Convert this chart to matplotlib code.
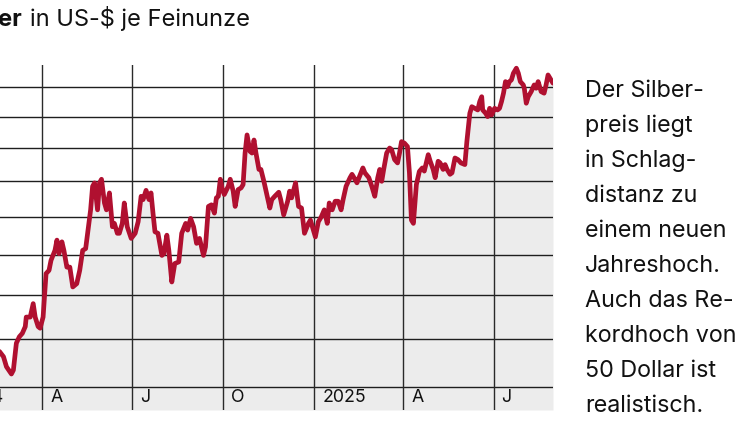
import matplotlib
matplotlib.use("Agg")
import matplotlib.pyplot as plt
import matplotlib.transforms as mtransforms
from matplotlib.ticker import NullLocator
import pandas as pd

plt.rcParams['font.family'] = ['Inter', 'DejaVu Sans']

# ---- data -------------------------------------------------------------
dates = [
    "2024-02-10", "2024-02-18", "2024-02-22", "2024-02-25", "2024-03-01", "2024-03-03", "2024-03-06",
    "2024-03-09", "2024-03-12", "2024-03-15", "2024-03-16", "2024-03-20", "2024-03-23",
    "2024-03-25", "2024-03-28", "2024-03-30", "2024-04-02", "2024-04-05", "2024-04-08",
    "2024-04-10", "2024-04-14", "2024-04-16", "2024-04-18", "2024-04-21", "2024-04-23",
    "2024-04-26", "2024-04-29", "2024-05-02", "2024-05-06", "2024-05-09", "2024-05-12",
    "2024-05-15", "2024-05-17", "2024-05-20", "2024-05-22", "2024-05-24", "2024-05-27",
    "2024-05-29", "2024-05-31", "2024-06-03", "2024-06-05", "2024-06-08", "2024-06-11",
    "2024-06-13", "2024-06-16", "2024-06-18", "2024-06-21", "2024-06-23", "2024-06-26",
    "2024-06-30", "2024-07-04", "2024-07-07", "2024-07-10", "2024-07-12", "2024-07-15",
    "2024-07-18", "2024-07-20", "2024-07-22", "2024-07-24", "2024-07-27", "2024-07-31",
    "2024-08-02", "2024-08-05", "2024-08-07", "2024-08-10", "2024-08-13", "2024-08-17",
    "2024-08-20", "2024-08-24", "2024-08-26", "2024-08-29", "2024-09-01", "2024-09-04",
    "2024-09-07", "2024-09-11", "2024-09-13", "2024-09-16", "2024-09-19", "2024-09-22",
    "2024-09-24", "2024-09-26", "2024-09-28", "2024-09-30", "2024-10-02", "2024-10-06",
    "2024-10-08", "2024-10-11", "2024-10-13", "2024-10-16", "2024-10-19", "2024-10-21",
    "2024-10-23", "2024-10-25", "2024-10-28", "2024-10-30", "2024-11-01", "2024-11-03",
    "2024-11-06", "2024-11-08", "2024-11-11", "2024-11-14", "2024-11-17", "2024-11-19",
    "2024-11-22", "2024-11-26", "2024-11-28", "2024-12-01", "2024-12-05", "2024-12-07",
    "2024-12-09", "2024-12-13", "2024-12-16", "2024-12-19", "2024-12-22", "2024-12-26",
    "2024-12-28", "2024-12-31", "2025-01-02", "2025-01-05", "2025-01-08", "2025-01-11",
    "2025-01-14", "2025-01-16", "2025-01-19", "2025-01-22", "2025-01-25", "2025-01-28",
    "2025-01-30", "2025-02-02", "2025-02-06", "2025-02-08", "2025-02-11", "2025-02-13",
    "2025-02-17", "2025-02-19", "2025-02-21", "2025-02-25", "2025-02-28", "2025-03-03",
    "2025-03-06", "2025-03-08", "2025-03-10", "2025-03-12", "2025-03-15", "2025-03-18",
    "2025-03-20", "2025-03-23", "2025-03-26", "2025-03-28", "2025-03-30", "2025-04-02",
    "2025-04-05", "2025-04-07", "2025-04-09", "2025-04-11", "2025-04-14", "2025-04-17",
    "2025-04-20", "2025-04-22", "2025-04-26", "2025-04-28", "2025-05-01", "2025-05-03",
    "2025-05-06", "2025-05-08", "2025-05-11", "2025-05-13", "2025-05-15", "2025-05-18",
    "2025-05-20", "2025-05-23", "2025-05-26", "2025-05-29", "2025-06-02", "2025-06-04",
    "2025-06-07", "2025-06-09", "2025-06-12", "2025-06-15", "2025-06-17", "2025-06-19",
    "2025-06-20", "2025-06-23", "2025-06-25", "2025-06-27", "2025-06-29", "2025-07-02",
    "2025-07-05", "2025-07-07", "2025-07-09", "2025-07-11", "2025-07-13", "2025-07-15",
    "2025-07-17", "2025-07-19", "2025-07-21", "2025-07-24", "2025-07-26", "2025-07-28",
    "2025-07-31", "2025-08-01", "2025-08-03", "2025-08-05", "2025-08-08", "2025-08-11",
    "2025-08-13", "2025-08-15", "2025-08-18", "2025-08-21", "2025-08-23", "2025-08-25",
    "2025-08-28", "2025-08-30",
]
price = [
    23.45, 23.47, 23.25, 22.83, 22.53, 22.69, 23.83,
    24.11, 24.26, 24.56, 24.99, 24.99, 25.61,
    24.99, 24.56, 24.49, 24.99, 27.05, 27.21,
    27.71, 28.22, 28.75, 28.05, 28.66, 28.22,
    27.37, 27.37, 26.40, 26.56, 27.21, 28.22,
    28.31, 29.11, 30.38, 31.71, 31.91, 30.38,
    31.91, 32.12, 30.76, 30.38, 31.33, 29.46,
    29.64, 29.11, 29.11, 29.64, 30.76, 29.46,
    28.84, 29.11, 29.73, 31.14, 30.95, 31.48,
    30.95, 31.33, 30.20, 29.19, 29.11, 27.96,
    28.05, 29.01, 28.22, 26.64, 27.55, 27.63,
    29.11, 29.64, 29.28, 29.91, 29.46, 28.58,
    28.84, 27.96, 28.40, 30.57, 30.66, 30.20,
    31.05, 31.14, 32.12, 31.52, 31.24, 31.71,
    32.12, 31.43, 30.57, 31.52, 31.62, 31.81,
    33.69, 34.82, 33.79, 33.69, 34.50, 33.69,
    32.70, 32.70, 32.00, 31.24, 30.48, 30.95,
    31.14, 31.37, 30.95, 30.10, 30.86, 31.43,
    31.05, 31.91, 30.57, 30.48, 29.11, 29.64,
    29.82, 29.28, 28.92, 29.73, 30.00, 30.38,
    29.64, 30.76, 30.38, 30.86, 30.86, 30.38,
    30.95, 31.71, 32.21, 32.41, 32.12, 31.91,
    32.50, 32.79, 32.50, 32.21, 31.71, 31.14,
    32.21, 32.70, 32.00, 32.70, 33.69, 34.00,
    33.90, 33.29, 33.09, 33.69, 34.40, 34.30,
    34.09, 32.50, 29.82, 29.64, 31.81, 32.58,
    32.79, 32.60, 33.59, 33.19, 32.70, 32.21,
    33.19, 33.09, 32.70, 32.99, 32.70, 32.41,
    32.50, 33.39, 33.29, 33.09, 32.99, 34.40,
    36.22, 36.66, 36.55, 36.44, 37.00, 37.33,
    36.44, 36.22, 36.00, 36.55, 36.11, 36.55,
    36.44, 36.55, 37.00, 37.57, 38.37, 38.02,
    38.37, 38.49, 38.96, 39.32, 38.96, 38.37,
    38.14, 37.91, 36.89, 37.33, 37.68, 38.14,
    37.91, 38.37, 37.68, 37.57, 38.14, 38.84,
    38.49, 38.26,
]
quarter_starts = ["2024-01-01", "2024-04-01", "2024-07-01", "2024-10-01",
                  "2025-01-01", "2025-04-01", "2025-07-01"]
quarter_labels = ["2024", "A", "J", "O", "2025", "A", "J"]
grid_values = [22, 24, 26, 28, 30, 32, 34, 36, 38]

title_bold = "Silber"
title_rest = "in US-$ je Feinunze"
side_lines = ["Der Silber-", "preis liegt", "in Schlag-", "distanz zu",
              "einem neuen", "Jahreshoch.", "Auch das Re-", "kordhoch von",
              "50 Dollar ist", "realistisch."]

# ---- figure -------------------------------------------------------------
W, H = 750, 421
fig = plt.figure(figsize=(W / 100, H / 100), dpi=100)

def px(x0, y0, x1, y1):
    return [x0 / W, 1 - y1 / H, (x1 - x0) / W, (y1 - y0) / H]

ax = fig.add_axes(px(-48, 65, 553, 410))
d = pd.to_datetime(dates)
q = pd.to_datetime(quarter_starts)

ymin, ymax = 21.10, 39.55
ax.set_yscale('log')
ax.set_ylim(ymin, ymax)
ax.set_xlim(pd.Timestamp("2024-01-01"), pd.Timestamp("2025-08-30"))

red = '#b01030'
ax.fill_between(d, price, ymin, color='#ececec', lw=0, zorder=1)
for v in grid_values:
    ax.axhline(v, color='#1e1e1e', lw=1.0, zorder=2)
for t in q:
    ax.axvline(t, color='#2a2a2a', lw=1.0, zorder=2)
ax.plot(d, price, color=red, lw=3.4, solid_joinstyle='round', solid_capstyle='round', zorder=3)

trans = mtransforms.blended_transform_factory(ax.transData, ax.transAxes)
offset = mtransforms.ScaledTranslation(8 / 100, 0, fig.dpi_scale_trans)
for t, lab in zip(q, quarter_labels):
    ax.text(t, 12 / 345, lab, transform=trans + offset, ha='left', va='center',
            fontsize=12.8, color='#111111')

for s in ax.spines.values():
    s.set_visible(False)
ax.yaxis.set_major_locator(NullLocator())
ax.yaxis.set_minor_locator(NullLocator())
ax.set_xticks([])
ax.tick_params(left=False, bottom=False, labelleft=False, labelbottom=False)

# title
fig.text(22 / W, 1 - 26 / H, title_bold, ha='right', va='baseline',
         fontsize=17, fontweight='bold', color='#111111')
fig.text(30 / W, 1 - 26 / H, title_rest, ha='left', va='baseline',
         fontsize=17, color='#111111')

# side text
for i, line in enumerate(side_lines):
    fig.text(585 / W, 1 - (97 + 35 * i) / H, line, ha='left', va='baseline',
             fontsize=16.8, color='#111111')

fig.savefig("out.png", dpi=100)
